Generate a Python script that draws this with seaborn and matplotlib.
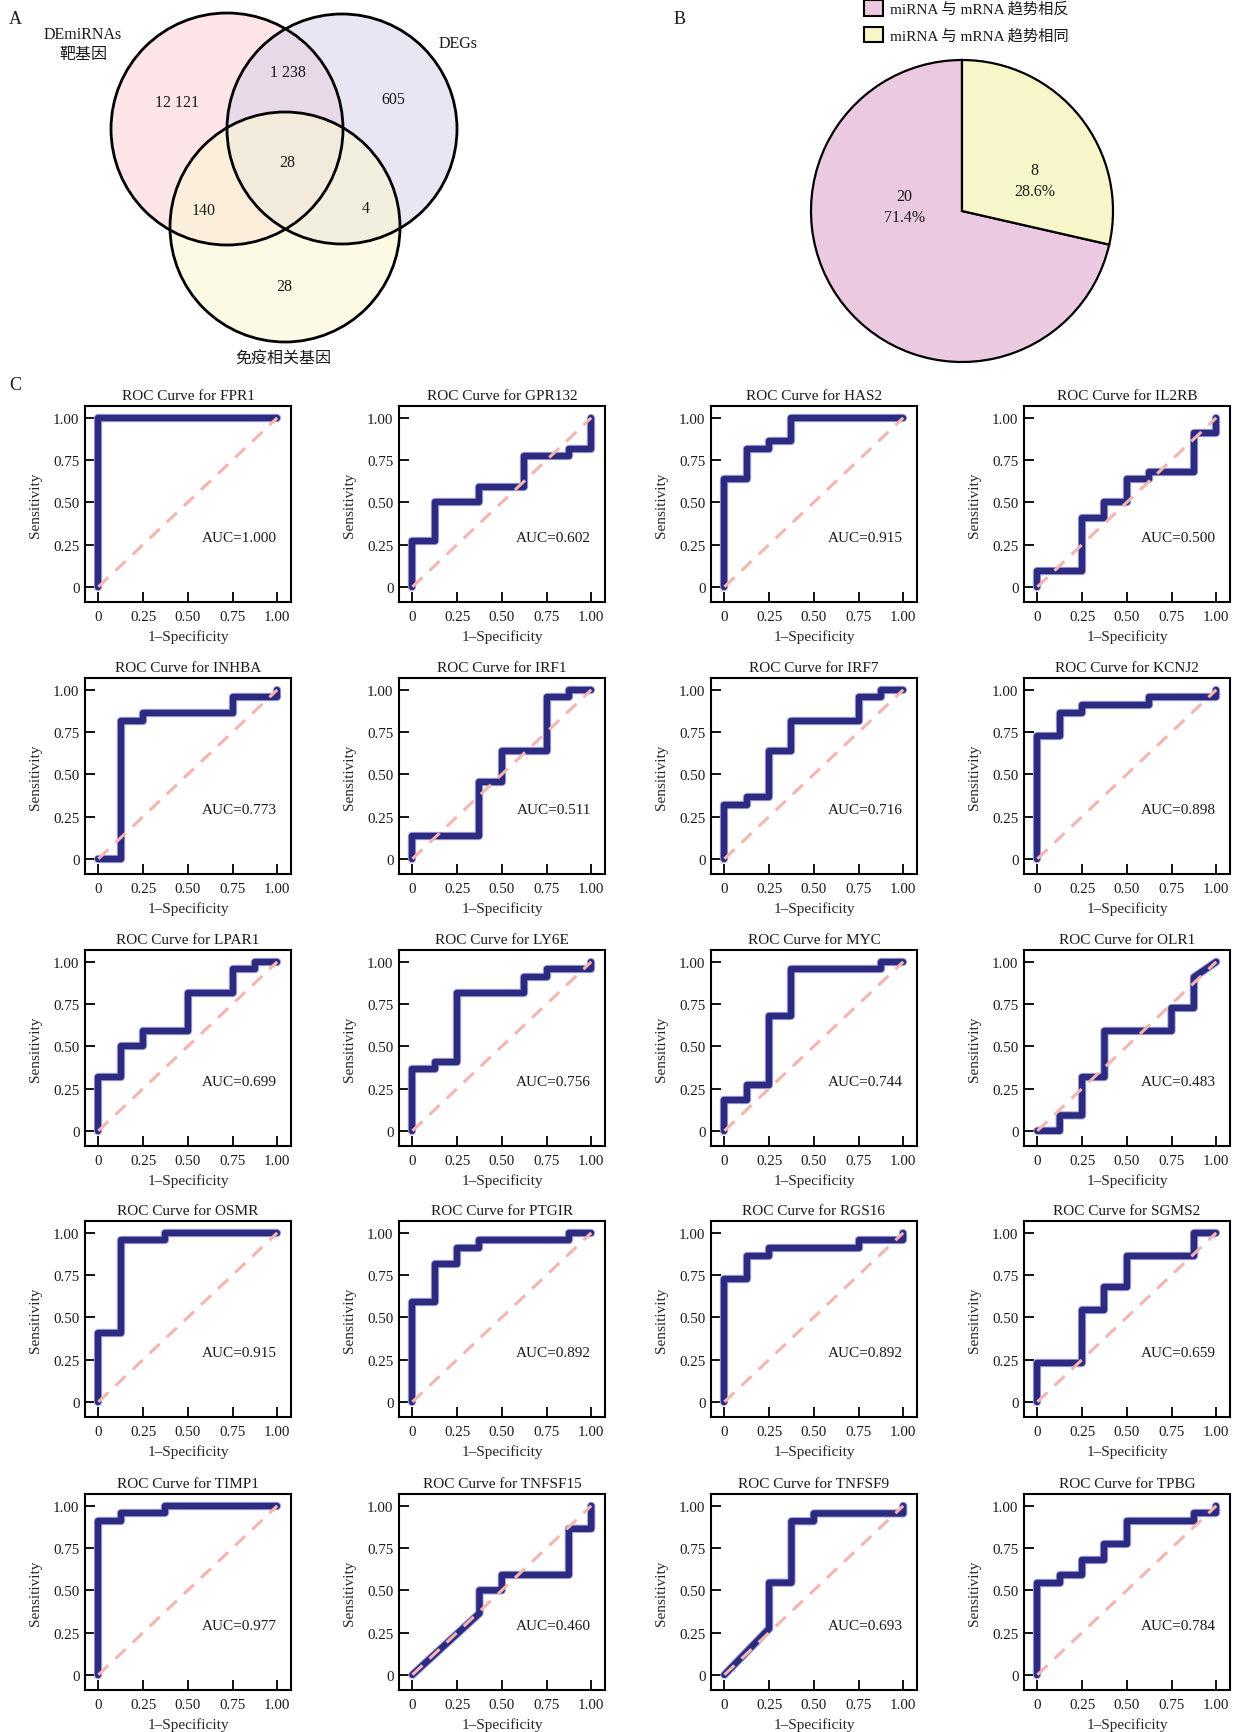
import matplotlib
matplotlib.use("Agg")
import matplotlib.patheffects as pe
import matplotlib.pyplot as plt
import pandas as pd
import seaborn as sns
from matplotlib.patches import Circle, Patch

# ---- panel A: Venn region counts ----
VENN_SETS = ["DEmiRNAs\n靶基因", "DEGs", "免疫相关基因"]
VENN_COUNTS = [12121, 1238, 605, 28, 140, 4, 28]  # A only, A&B, B only, A&B&C, A&C, B&C, C only

# ---- panel B: pie ----
PIE_LABELS = ["miRNA 与 mRNA 趋势相反", "miRNA 与 mRNA 趋势相同"]
PIE_COUNTS = [20, 8]

# ---- panel C: ROC curves ----
GENES = ["FPR1", "GPR132", "HAS2", "IL2RB", "INHBA", "IRF1", "IRF7", "KCNJ2",
         "LPAR1", "LY6E", "MYC", "OLR1", "OSMR", "PTGIR", "RGS16", "SGMS2",
         "TIMP1", "TNFSF15", "TNFSF9", "TPBG"]
AUC = [1.000, 0.602, 0.915, 0.500, 0.773, 0.511, 0.716, 0.898,
       0.699, 0.756, 0.744, 0.483, 0.915, 0.892, 0.892, 0.659,
       0.977, 0.460, 0.693, 0.784]

fpr_FPR1 = [0, 0, 1]
tpr_FPR1 = [0, 1, 1]
fpr_GPR132 = [0, 0, 0.125, 0.125, 0.375, 0.375, 0.625, 0.625, 0.875, 0.875, 1, 1]
tpr_GPR132 = [0, 0.273, 0.273, 0.5, 0.5, 0.591, 0.591, 0.773, 0.773, 0.818, 0.818, 1]
fpr_HAS2 = [0, 0, 0.125, 0.125, 0.25, 0.25, 0.375, 0.375, 1]
tpr_HAS2 = [0, 0.636, 0.636, 0.818, 0.818, 0.864, 0.864, 1, 1]
fpr_IL2RB = [0, 0, 0.25, 0.25, 0.375, 0.375, 0.5, 0.5, 0.625, 0.625, 0.875, 0.875, 1, 1]
tpr_IL2RB = [0, 0.091, 0.091, 0.409, 0.409, 0.5, 0.5, 0.636, 0.636, 0.682, 0.682, 0.909, 0.909, 1]
fpr_INHBA = [0, 0.125, 0.125, 0.25, 0.25, 0.75, 0.75, 1, 1]
tpr_INHBA = [0, 0, 0.818, 0.818, 0.864, 0.864, 0.955, 0.955, 1]
fpr_IRF1 = [0, 0, 0.375, 0.375, 0.5, 0.5, 0.75, 0.75, 0.875, 0.875, 1]
tpr_IRF1 = [0, 0.136, 0.136, 0.455, 0.455, 0.636, 0.636, 0.955, 0.955, 1, 1]
fpr_IRF7 = [0, 0, 0.125, 0.125, 0.25, 0.25, 0.375, 0.375, 0.75, 0.75, 0.875, 0.875, 1]
tpr_IRF7 = [0, 0.318, 0.318, 0.364, 0.364, 0.636, 0.636, 0.818, 0.818, 0.955, 0.955, 1, 1]
fpr_KCNJ2 = [0, 0, 0.125, 0.125, 0.25, 0.25, 0.625, 0.625, 1, 1]
tpr_KCNJ2 = [0, 0.727, 0.727, 0.864, 0.864, 0.909, 0.909, 0.955, 0.955, 1]
fpr_LPAR1 = [0, 0, 0.125, 0.125, 0.25, 0.25, 0.5, 0.5, 0.75, 0.75, 0.875, 0.875, 1]
tpr_LPAR1 = [0, 0.318, 0.318, 0.5, 0.5, 0.591, 0.591, 0.818, 0.818, 0.955, 0.955, 1, 1]
fpr_LY6E = [0, 0, 0.125, 0.125, 0.25, 0.25, 0.625, 0.625, 0.75, 0.75, 1, 1]
tpr_LY6E = [0, 0.364, 0.364, 0.409, 0.409, 0.818, 0.818, 0.909, 0.909, 0.955, 0.955, 1]
fpr_MYC = [0, 0, 0.125, 0.125, 0.25, 0.25, 0.375, 0.375, 0.875, 0.875, 1]
tpr_MYC = [0, 0.182, 0.182, 0.273, 0.273, 0.682, 0.682, 0.955, 0.955, 1, 1]
fpr_OLR1 = [0, 0.125, 0.125, 0.25, 0.25, 0.375, 0.375, 0.75, 0.75, 0.875, 0.875, 1]
tpr_OLR1 = [0, 0, 0.091, 0.091, 0.318, 0.318, 0.591, 0.591, 0.727, 0.727, 0.909, 1]
fpr_OSMR = [0, 0, 0.125, 0.125, 0.375, 0.375, 1]
tpr_OSMR = [0, 0.409, 0.409, 0.955, 0.955, 1, 1]
fpr_PTGIR = [0, 0, 0.125, 0.125, 0.25, 0.25, 0.375, 0.375, 0.875, 0.875, 1]
tpr_PTGIR = [0, 0.591, 0.591, 0.818, 0.818, 0.909, 0.909, 0.955, 0.955, 1, 1]
fpr_RGS16 = [0, 0, 0.125, 0.125, 0.25, 0.25, 0.75, 0.75, 1, 1]
tpr_RGS16 = [0, 0.727, 0.727, 0.864, 0.864, 0.909, 0.909, 0.955, 0.955, 1]
fpr_SGMS2 = [0, 0, 0.25, 0.25, 0.375, 0.375, 0.5, 0.5, 0.875, 0.875, 1]
tpr_SGMS2 = [0, 0.227, 0.227, 0.545, 0.545, 0.682, 0.682, 0.864, 0.864, 1, 1]
fpr_TIMP1 = [0, 0, 0.125, 0.125, 0.375, 0.375, 1]
tpr_TIMP1 = [0, 0.909, 0.909, 0.955, 0.955, 1, 1]
fpr_TNFSF15 = [0, 0.375, 0.375, 0.5, 0.5, 0.875, 0.875, 1, 1]
tpr_TNFSF15 = [0, 0.364, 0.5, 0.5, 0.591, 0.591, 0.864, 0.864, 1]
fpr_TNFSF9 = [0, 0.25, 0.25, 0.375, 0.375, 0.5, 0.5, 1, 1]
tpr_TNFSF9 = [0, 0.273, 0.545, 0.545, 0.909, 0.909, 0.955, 0.955, 1]
fpr_TPBG = [0, 0, 0.125, 0.125, 0.25, 0.25, 0.375, 0.375, 0.5, 0.5, 0.875, 0.875, 1, 1]
tpr_TPBG = [0, 0.545, 0.545, 0.591, 0.591, 0.682, 0.682, 0.773, 0.773, 0.909, 0.909, 0.955, 0.955, 1]

ROC_FPR = [fpr_FPR1, fpr_GPR132, fpr_HAS2, fpr_IL2RB, fpr_INHBA, fpr_IRF1, fpr_IRF7, fpr_KCNJ2,
           fpr_LPAR1, fpr_LY6E, fpr_MYC, fpr_OLR1, fpr_OSMR, fpr_PTGIR, fpr_RGS16, fpr_SGMS2,
           fpr_TIMP1, fpr_TNFSF15, fpr_TNFSF9, fpr_TPBG]
ROC_TPR = [tpr_FPR1, tpr_GPR132, tpr_HAS2, tpr_IL2RB, tpr_INHBA, tpr_IRF1, tpr_IRF7, tpr_KCNJ2,
           tpr_LPAR1, tpr_LY6E, tpr_MYC, tpr_OLR1, tpr_OSMR, tpr_PTGIR, tpr_RGS16, tpr_SGMS2,
           tpr_TIMP1, tpr_TNFSF15, tpr_TNFSF9, tpr_TPBG]

W, H = 1239, 1733
TXT = "#1a1a1a"
NAVY = "#2d2b7f"

sns.set_theme(style="ticks")
plt.rcParams["font.family"] = ["Liberation Serif", "Noto Sans CJK SC"]
plt.rcParams["axes.unicode_minus"] = False
plt.rcParams["text.color"] = TXT

fig = plt.figure(figsize=(W / 100, H / 100), dpi=100)


def px_axes(left, top, width, height):
    return fig.add_axes([left / W, 1 - (top + height) / H, width / W, height / H])


# ---------------- A: Venn ----------------
ax = px_axes(0, 0, 600, 380)
ax.set_xlim(0, 600)
ax.set_ylim(380, 0)
ax.axis("off")
circles = [((227, 130), 116, "#fbcbd1", 0.5), ((342, 130), 115, "#d3cfe9", 0.5),
           ((285, 228), 115, "#fbf6d3", 0.6)]
for (cx, cy), r, col, a in circles:
    ax.add_patch(Circle((cx, cy), r, facecolor=col, edgecolor="none", alpha=a))
for (cx, cy), r, col, a in circles:
    ax.add_patch(Circle((cx, cy), r, fill=False, edgecolor="black", linewidth=2))

count_pos = [(177, 103), (288, 73), (393, 100), (287, 163), (204, 211), (366, 209), (284, 287)]
for n, (x, y) in zip(VENN_COUNTS, count_pos):
    ax.text(x, y, f"{n:,}".replace(",", " "), ha="center", va="center", fontsize=11.5)
ax.text(83, 45, VENN_SETS[0], ha="center", va="center", fontsize=11.5, linespacing=1.3)
ax.text(458, 44, VENN_SETS[1], ha="center", va="center", fontsize=11.5)
ax.text(283, 360, VENN_SETS[2], ha="center", va="center", fontsize=11.5)

# ---------------- B: pie ----------------
r_px, cx_px, cy_px = 151, 962, 212
box = 2.1 * r_px
ax = px_axes(cx_px - box / 2, cy_px - box / 2, box, box)
total = sum(PIE_COUNTS)
wedges, _, autotexts = ax.pie(
    PIE_COUNTS,
    colors=["#ebc9e0", "#f7f6c9"],
    startangle=90,
    counterclock=True,
    autopct=lambda p: f"{round(p * total / 100)}\n{p:.1f}%",
    wedgeprops=dict(edgecolor="black", linewidth=1.6),
    textprops=dict(fontsize=11.5, color=TXT, linespacing=1.4),
)
autotexts[0].set_position((-0.38, 0.03))
autotexts[1].set_position((0.48, 0.2))
ax.set_xlim(-1.05, 1.05)
ax.set_ylim(-1.05, 1.05)
ax.set_aspect("equal")

handles = [Patch(facecolor=w.get_facecolor(), edgecolor="black", linewidth=1.5) for w in wedges]
fig.legend(handles, PIE_LABELS, loc="upper left", bbox_to_anchor=(864 / W, 1 - 1 / H),
           frameon=False, fontsize=11, handlelength=1.25, handleheight=1.2,
           handletextpad=0.45, labelspacing=0.7, borderaxespad=0, borderpad=0)

# ---------------- C: ROC grid ----------------
COL_LEFT = [85, 399, 711, 1024]
ROW_TOP = [407, 679, 951, 1222, 1495]
ticks = [0, 0.25, 0.5, 0.75, 1.0]
tick_labels = ["0", "0.25", "0.50", "0.75", "1.00"]

for i, gene in enumerate(GENES):
    r, c = divmod(i, 4)
    ax = px_axes(COL_LEFT[c], ROW_TOP[r], 206, 196)
    df = pd.DataFrame({"fpr": ROC_FPR[i], "tpr": ROC_TPR[i]})
    sns.lineplot(data=df, x="fpr", y="tpr", sort=False, estimator=None, ax=ax,
                 color=NAVY, linewidth=4.6,
                 path_effects=[pe.Stroke(linewidth=6.0, foreground="#a4a6dc"), pe.Normal()])
    ax.plot([0, 1], [0, 1], color="#f4b5b0", linewidth=2.2, dashes=(4.5, 3.2))
    ax.text(1.0, 0.29, f"AUC={AUC[i]:.3f}", ha="right", va="center", fontsize=11)
    ax.set_xlim(-0.075, 1.077)
    ax.set_ylim(-0.09, 1.07)
    ax.set_xticks(ticks, tick_labels)
    ax.set_yticks(ticks, tick_labels)
    ax.tick_params(direction="in", length=7, width=1.3, labelsize=10.8, colors="black",
                   labelcolor=TXT, pad=4)
    ax.tick_params(axis="x", pad=6)
    for s in ax.spines.values():
        s.set_visible(True)
        s.set_color("black")
        s.set_linewidth(1.5)
    ax.set_title(f"ROC Curve for {gene}", fontsize=11, pad=5)
    ax.set_xlabel("1–Specificity", fontsize=11, labelpad=4)
    ax.set_ylabel("Sensitivity", fontsize=11, labelpad=8)

fig.text(15 / W, 1 - 20 / H, "A", fontsize=13, va="center", ha="center")
fig.text(680 / W, 1 - 20 / H, "B", fontsize=13, va="center", ha="center")
fig.text(15 / W, 1 - 386 / H, "C", fontsize=13, va="center", ha="center")

fig.savefig("out.png", dpi=100)
